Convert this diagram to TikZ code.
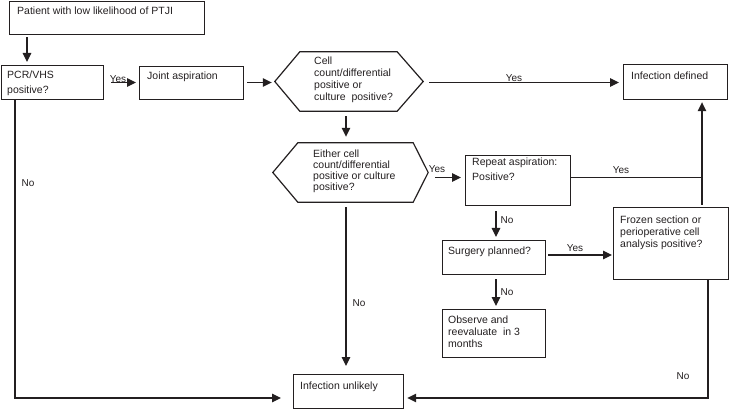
\documentclass[tikz,border=0pt]{standalone}
\usepackage{fontspec}
\setmainfont{Liberation Sans}
\usetikzlibrary{arrows.meta,calc}
\definecolor{ink}{RGB}{35,31,32}
\begin{document}
\begin{tikzpicture}[x=1pt,y=-1pt,
  box/.style={draw=ink, line width=1.2pt, anchor=north west, inner sep=0},
  hexbox/.style={draw=none, inner sep=0},
  txt/.style={anchor=north west, inner sep=0, align=left, text=ink, font=\fontsize{10.5}{12}\selectfont, execute at begin node=\rule{0pt}{8pt}},
  lbl/.style={inner sep=0, text=ink, font=\fontsize{10}{12}\selectfont},
  conn/.style={draw=ink, line width=1.2pt},
  arr/.style={conn, -{Triangle[length=9pt,width=8.5pt]}},
]
\useasboundingbox (0,0) rectangle (729,409);

% boxes
\node[box, minimum width=195pt, minimum height=33pt] (pat) at (9,1) {};
\node[box, minimum width=102pt, minimum height=34pt] (pcr) at (1,65) {};
\node[box, minimum width=104pt, minimum height=33pt] (ja) at (139,66) {};
\node[box, minimum width=104pt, minimum height=35pt] (idef) at (623,64) {};
\node[box, minimum width=105pt, minimum height=50pt] (rep) at (465,155) {};
\node[box, minimum width=103pt, minimum height=34pt] (surg) at (442,240) {};
\node[box, minimum width=103pt, minimum height=48pt] (obs) at (442,309) {};
\node[box, minimum width=115pt, minimum height=72pt] (froz) at (613,207) {};
\node[box, minimum width=110pt, minimum height=34pt] (iunl) at (293,374) {};

% hexagons
\node[hexbox, minimum width=148pt, minimum height=59pt] (h1) at (349,81.5) {};
\draw[conn] (h1.west) -- ($(h1.north west)+(25,0)$) -- ($(h1.north east)+(-26,0)$) -- (h1.east)
  -- ($(h1.south east)+(-26,0)$) -- ($(h1.south west)+(25,0)$) -- cycle;
\node[hexbox, minimum width=155pt, minimum height=59pt] (h2) at (350.5,172.5) {};
\draw[conn] (h2.west) -- ($(h2.north west)+(25,0)$) -- ($(h2.north east)+(-15,0)$) -- (h2.east)
  -- ($(h2.south east)+(-15,0)$) -- ($(h2.south west)+(25,0)$) -- cycle;

% texts
\node[txt] (tpat) at (17,6) {Patient with low likelihood of PTJI};
\node[txt, font=\fontsize{10.5}{15}\selectfont] (tpcr) at (7,71) {PCR/VHS\\positive?};
\node[txt] (tja) at (147,71) {Joint aspiration};
\node[txt, font=\fontsize{10.5}{12}\selectfont] (th1) at (314,57) {Cell\\count/differential\\positive or\\culture\ \ positive?};
\node[txt] (tidef) at (631,71) {Infection defined};
\node[txt, font=\fontsize{10.5}{11}\selectfont] (th2) at (313,150) {Either cell\\count/differential\\positive or culture\\positive?};
\node[txt, font=\fontsize{10.5}{15}\selectfont] (trep) at (472,158) {Repeat aspiration:\\Positive?};
\node[txt] (tsurg) at (448,246) {Surgery planned?};
\node[txt, font=\fontsize{10.5}{12}\selectfont] (tobs) at (448,316) {Observe and\\reevaluate\ \ in 3\\months};
\node[txt, font=\fontsize{10.5}{12}\selectfont] (tfroz) at (620,216) {Frozen section or\\perioperative cell\\analysis positive?};
\node[txt] (tiunl) at (300,381) {Infection unlikely};

% helper coordinates
\coordinate (xa1) at (27,0);
\coordinate (ya) at (0,82.5);
\coordinate (xh) at (346,0);
\coordinate (yb) at (0,177.5);
\coordinate (xv) at (702,0);
\coordinate (xr) at (496,0);
\coordinate (yc) at (0,255);
\coordinate (xl) at (15,0);
\coordinate (xrr) at (708,0);
\coordinate (yd) at (0,398);

% connectors
\draw[arr] ($(pat.south -| xa1)+(0,2)$) -- ($(pcr.north -| xa1)+(0,-3)$);
\draw[arr] ($(pcr.east |- ya)+(7,0)$) -- ($(ja.west |- ya)+(-3,0)$);
\draw[arr] ($(ja.east |- ya)+(3,0)$) -- ($(h1.west |- ya)+(-3,0)$);
\draw[arr] ($(h1.east |- ya)+(6,0)$) -- ($(idef.west |- ya)+(-4,0)$);
\draw[arr] ($(h1.south -| xh)+(0,5)$) -- ($(h2.north -| xh)+(0,-6)$);
\draw[arr] ($(h2.east |- yb)+(7,0)$) -- ($(rep.west |- yb)+(-4,0)$);
\draw[conn] (rep.east |- yb) -- (xv |- yb);
\draw[arr] ($(froz.north -| xv)+(0,-2)$) -- ($(idef.south -| xv)+(0,2)$);
\draw[arr] ($(rep.south -| xr)+(0,5)$) -- ($(surg.north -| xr)+(0,-3)$);
\draw[arr] ($(surg.east |- yc)+(2,0)$) -- ($(froz.west |- yc)+(-1,0)$);
\draw[arr] ($(surg.south -| xr)+(0,4)$) -- ($(obs.north -| xr)+(0,-3)$);
\draw[arr] ($(h2.south -| xh)+(0,5)$) -- ($(iunl.north -| xh)+(0,-8)$);
\draw[arr] (pcr.south -| xl) -- (xl |- yd) -- ($(iunl.west |- yd)+(-12,0)$);
\draw[arr] (froz.south -| xrr) -- (xrr |- yd) -- ($(iunl.east |- yd)+(3,0)$);

% labels
\node[lbl] (ly1) at (118,79) {Yes};
\node[lbl] (ly2) at (514,78) {Yes};
\node[lbl] (ly3) at (437,169) {Yes};
\node[lbl] (ly4) at (621,170) {Yes};
\node[lbl] (ly5) at (575,248) {Yes};
\node[lbl] (ln1) at (507,220) {No};
\node[lbl] (ln2) at (507,292) {No};
\node[lbl] (ln3) at (359,303) {No};
\node[lbl] (ln4) at (28,183) {No};
\node[lbl] (ln5) at (683,376) {No};
\end{tikzpicture}
\end{document}
